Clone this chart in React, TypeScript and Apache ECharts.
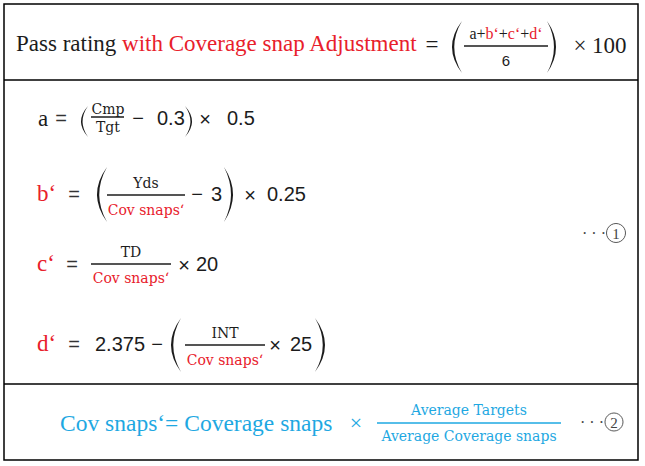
import React, { useEffect, useRef } from "react";
import * as echarts from "echarts";

// ---- content (texts and constants) ----
const titleBlack = "Pass rating ";
const titleRed = "with Coverage snap Adjustment";
const numeratorParts: [string, string][] = [
  ["a", "k"], ["+", "k"], ["b‘", "r"], ["+", "k"], ["c‘", "r"], ["+", "k"], ["d‘", "r"],
];
const denominator = "6";
const multiplier = ["×", "100"];
const rowLabels = ["a", "b‘", "c‘", "d‘"];
const fractionNumerators = ["Cmp", "Yds", "TD", "INT"];
const fractionDenominators = ["Tgt", "Cov snaps‘", "Cov snaps‘", "Cov snaps‘"];
const constantsA = ["0.3", "0.5"];
const constantsB = ["3", "0.25"];
const constantsC = ["20"];
const constantsD = ["2.375", "25"];
const footLeft = "Cov snaps‘= Coverage snaps";
const footNum = "Average Targets";
const footDen = "Average Coverage snaps";
const markers = ["1", "2"];

const BLACK = "#1c1c1c";
const RED = "#e8202b";
const CYAN = "#1ea8e2";
const GRAY = "#444";
const SERIF = "Liberation Serif, DejaVu Serif";
const SLAB = "DejaVu Serif";
const SANS = "Liberation Sans, DejaVu Sans";

let shapesRegistered = false;
function registerShapes() {
  if (shapesRegistered) return;
  shapesRegistered = true;
  echarts.graphic.registerShape(
    "lparen",
    echarts.graphic.extendPath("M1 0 Q-1 0.5 1 1 Q-0.55 0.5 1 0 Z", {})
  );
  echarts.graphic.registerShape(
    "rparen",
    echarts.graphic.extendPath("M0 0 Q2 0.5 0 1 Q1.55 0.5 0 0 Z", {})
  );
}

function txt(
  x: number,
  y: number,
  s: string,
  size: number,
  family: string,
  fill: string,
  align: string = "left",
  extra: any = {}
) {
  return {
    type: "text",
    x,
    y,
    silent: true,
    style: {
      text: s,
      fontSize: size,
      fontFamily: family,
      fill,
      align,
      verticalAlign: "middle",
      textAlign: align,
      textVerticalAlign: "middle",
      ...extra,
    },
  };
}

function hline(x1: number, x2: number, y: number, color: string, w = 1.5) {
  return {
    type: "line",
    silent: true,
    shape: { x1, y1: y, x2, y2: y },
    style: { stroke: color, lineWidth: w },
  };
}

function paren(kind: "lparen" | "rparen", x: number, y: number, w: number, h: number, color = BLACK) {
  return {
    type: kind,
    x,
    y,
    scaleX: w,
    scaleY: h,
    silent: true,
    style: { fill: color, stroke: "none" },
  };
}

function marker(dotsRight: number, cx: number, cy: number, r: number, label: string) {
  return [
    txt(dotsRight, cy, "· · ·", 16, SERIF, GRAY, "right"),
    {
      type: "circle",
      silent: true,
      shape: { cx, cy, r },
      style: { fill: "none", stroke: GRAY, lineWidth: 0.9 },
    },
    txt(cx, cy + 0.5, label, 15, SERIF, GRAY, "center"),
  ];
}

function buildElements() {
  const els: any[] = [];
  // frame
  els.push({
    type: "rect",
    silent: true,
    shape: { x: 4, y: 4, width: 634, height: 456 },
    style: { fill: "#fff", stroke: "#000", lineWidth: 1.5 },
  });
  els.push(hline(4, 638, 80, "#000", 1.5));
  els.push(hline(4, 638, 384, "#000", 1.5));

  // ---- top formula ----
  els.push({
    type: "text",
    x: 16,
    y: 43,
    silent: true,
    style: {
      text: `{k|${titleBlack}}{r|${titleRed}}`,
      fontSize: 23,
      fontFamily: SERIF,
      fill: BLACK,
      verticalAlign: "middle",
      textVerticalAlign: "middle",
      rich: {
        k: { fontSize: 23, fontFamily: SERIF, fill: BLACK },
        r: { fontSize: 23, fontFamily: SERIF, fill: RED },
      },
    },
  });
  els.push(txt(432, 44, "=", 23, SERIF, BLACK, "center"));
  els.push(paren("lparen", 452, 21, 10, 52));
  const rich: any = {
    k: { fontSize: 16, fontFamily: SERIF, fill: BLACK },
    r: { fontSize: 16, fontFamily: SERIF, fill: RED },
  };
  els.push({
    type: "text",
    x: 506,
    y: 33,
    silent: true,
    style: {
      text: numeratorParts.map(([t, c]) => `{${c}|${t}}`).join(""),
      fontSize: 16,
      fontFamily: SERIF,
      fill: BLACK,
      align: "center",
      textAlign: "center",
      verticalAlign: "middle",
      textVerticalAlign: "middle",
      rich,
    },
  });
  els.push(hline(464, 548, 46, BLACK, 1.6));
  els.push(txt(506, 60, denominator, 15, SANS, BLACK, "center"));
  els.push(paren("rparen", 547, 21, 9, 52));
  els.push(txt(580, 45, multiplier[0], 23, SERIF, BLACK, "center"));
  els.push(txt(592, 45, multiplier[1], 23, SERIF, BLACK, "left"));

  // ---- row a ----
  const yA = 118;
  els.push(txt(38, yA, rowLabels[0], 23, SERIF, BLACK));
  els.push(txt(61, yA, "=", 20, SANS, "#333", "center"));
  els.push(paren("lparen", 81, 106, 7, 31));
  els.push(txt(108, 109, fractionNumerators[0], 14, SLAB, BLACK, "center"));
  els.push(hline(91, 124, 117, BLACK, 1.5));
  els.push(txt(108, 127, fractionDenominators[0], 14, SLAB, BLACK, "center"));
  els.push(txt(138, yA, "−", 20, SANS, BLACK, "center"));
  els.push(txt(157, yA, constantsA[0], 20, SANS, BLACK));
  els.push(paren("rparen", 185, 106, 7, 31));
  els.push(txt(205, yA + 1, "×", 20, SANS, BLACK, "center"));
  els.push(txt(227, yA, constantsA[1], 20, SANS, BLACK));

  // ---- row b ----
  const yB = 194;
  els.push(txt(37, yB - 1, rowLabels[1], 23, SERIF, RED));
  els.push(txt(74, yB, "=", 20, SANS, "#333", "center"));
  els.push(paren("lparen", 97, 167, 10, 55));
  els.push(txt(146, 183, fractionNumerators[1], 14, SLAB, BLACK, "center"));
  els.push(hline(107, 185, 195, BLACK, 1.5));
  els.push(txt(146, 210, fractionDenominators[1], 14, SLAB, RED, "center"));
  els.push(txt(197, yB, "−", 20, SANS, BLACK, "center"));
  els.push(txt(211, yB, constantsB[0], 20, SANS, BLACK));
  els.push(paren("rparen", 224, 167, 9, 55));
  els.push(txt(250, yB + 1, "×", 20, SANS, BLACK, "center"));
  els.push(txt(267, yB, constantsB[1], 20, SANS, BLACK));

  // ---- row c ----
  const yC = 264;
  els.push(txt(37, yC - 1, rowLabels[2], 23, SERIF, RED));
  els.push(txt(72, yC, "=", 20, SANS, "#333", "center"));
  els.push(txt(131, 252, fractionNumerators[2], 14, SLAB, BLACK, "center"));
  els.push(hline(91, 171, 264, BLACK, 1.5));
  els.push(txt(131, 278, fractionDenominators[2], 14, SLAB, RED, "center"));
  els.push(txt(184, yC + 1, "×", 20, SANS, BLACK, "center"));
  els.push(txt(196, yC, constantsC[0], 20, SANS, BLACK));

  // ---- row d ----
  const yD = 344;
  els.push(txt(37, yD - 1, rowLabels[3], 23, SERIF, RED));
  els.push(txt(74, yD, "=", 20, SANS, "#333", "center"));
  els.push(txt(95, yD, constantsD[0], 20, SANS, BLACK));
  els.push(txt(157, yD, "−", 20, SANS, BLACK, "center"));
  els.push(paren("lparen", 171, 318, 10, 54));
  els.push(txt(225, 333, fractionNumerators[3], 14, SLAB, BLACK, "center"));
  els.push(hline(185, 265, 345, BLACK, 1.5));
  els.push(txt(225, 360, fractionDenominators[3], 14, SLAB, RED, "center"));
  els.push(txt(275, yD + 1, "×", 20, SANS, BLACK, "center"));
  els.push(txt(290, yD, constantsD[1], 20, SANS, BLACK));
  els.push(paren("rparen", 315, 318, 10, 54));

  els.push(...marker(606, 616, 233, 9.5, markers[0]));

  // ---- bottom formula ----
  const yF = 423;
  els.push(txt(60, yF, footLeft, 23.5, SERIF, CYAN));
  els.push(txt(356, yF - 1, "×", 22, SERIF, CYAN, "center"));
  els.push(txt(469, 410, footNum, 14, SLAB, CYAN, "center"));
  els.push(hline(377, 561, 423, CYAN, 1.6));
  els.push(txt(469, 436, footDen, 14, SLAB, CYAN, "center"));
  els.push(...marker(604, 614, 422, 9, markers[1]));

  return els;
}

export default function App() {
  const ref = useRef<HTMLDivElement>(null);
  useEffect(() => {
    if (!ref.current) return;
    registerShapes();
    const chart = echarts.init(ref.current, undefined, { renderer: "svg" });
    chart.setOption({
      animation: false,
      backgroundColor: "#ffffff",
      graphic: { elements: buildElements() },
    });
    return () => chart.dispose();
  }, []);
  return (
    <div
      ref={ref}
      style={{ position: "fixed", left: 0, top: 0, width: 645, height: 466, background: "#fff" }}
    />
  );
}
